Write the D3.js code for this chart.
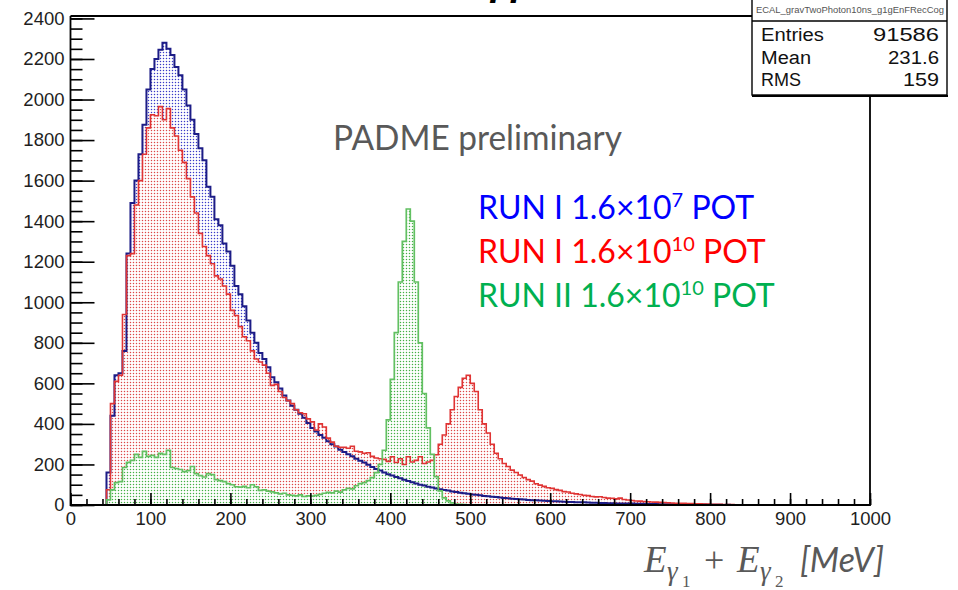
<!DOCTYPE html>
<html>
<head>
<meta charset="utf-8">
<script src="https://cdn.jsdelivr.net/npm/d3@7"></script>
<style>
  html, body { margin: 0; padding: 0; background: #fff; }
  svg { display: block; }
</style>
</head>
<body>
<svg id="chart" width="958" height="590"></svg>
<script>
// Two-photon energy sum, 5 MeV bins from 0 to 1000 MeV
const binWidth = 5;
const xTickLabels = [0, 100, 200, 300, 400, 500, 600, 700, 800, 900, 1000];
const yTickLabels = [0, 200, 400, 600, 800, 1000, 1200, 1400, 1600, 1800, 2000, 2200, 2400];

// RUN I, 1.6×10^7 POT
const run1Low = [
  0, 0, 0, 0, 0, 0, 0, 0, 0, 160,
  440, 640, 650, 760, 1240, 1490, 1600, 1730, 1875, 2050,
  2150, 2200, 2245, 2280, 2250, 2220, 2160, 2120, 2050, 1970,
  1900, 1830, 1760, 1700, 1570, 1520, 1410, 1380, 1290, 1250,
  1180, 1080, 1040, 980, 910, 850, 800, 750, 720, 680,
  630, 605, 575, 540, 515, 490, 470, 450, 430, 405,
  380, 362, 345, 332, 315, 300, 288, 272, 262, 250,
  240, 228, 218, 210, 198, 188, 178, 170, 160, 152,
  145, 138, 132, 124, 118, 112, 106, 100, 96, 90,
  86, 82, 78, 74, 71, 67, 64, 61, 58, 55,
  52, 50, 48, 45, 43, 41, 39, 37, 35, 33,
  31, 30, 28, 27, 25, 24, 23, 22, 21, 20,
  19, 18, 17, 16, 15, 15, 14, 13, 13, 12,
  11, 11, 10, 10, 9, 9, 8, 8, 8, 7,
  7, 6, 6, 6, 5, 5, 5, 4, 4, 4,
  4, 3, 3, 3, 2, 2, 2, 2, 2, 1,
  1, 1, 1, 0, 1, 0, 0, 0, 0, 0,
  0, 0, 0, 0, 0, 0, 0, 0, 0, 0,
  0, 0, 0, 0, 0, 0, 0, 0, 0, 0,
  0, 0, 0, 0, 0, 0, 0, 0, 0, 0
];

// RUN I, 1.6×10^10 POT
const run1High = [
  0, 0, 0, 0, 0, 0, 0, 0, 0, 75,
  500, 610, 640, 940, 1230, 1240, 1480, 1600, 1730, 1860,
  1925, 1920, 1965, 1900, 1955, 1860, 1820, 1750, 1690, 1610,
  1520, 1440, 1340, 1275, 1230, 1190, 1130, 1115, 1080, 1040,
  960, 935, 880, 830, 810, 760, 720, 705, 690, 650,
  590, 595, 560, 530, 515, 500, 470, 455, 450, 425,
  410, 370, 400, 385, 330, 310, 290, 285, 285, 280,
  290, 265, 262, 255, 258, 240, 232, 228, 225, 215,
  238, 210, 228, 200, 238, 212, 220, 238, 205, 212,
  220, 248, 300, 345, 400, 470, 535, 580, 625, 640,
  600, 560, 470, 400, 355, 300, 255, 228, 205, 190,
  172, 160, 148, 136, 125, 118, 105, 98, 92, 85,
  82, 76, 72, 66, 64, 58, 55, 52, 48, 46,
  42, 40, 41, 37, 34, 33, 30, 34, 27, 25,
  22, 20, 19, 17, 16, 15, 14, 13, 12, 11,
  10, 9, 9, 8, 7, 7, 6, 6, 5, 5,
  4, 3, 3, 2, 2, 2, 1, 1, 1, 1,
  0, 0, 0, 0, 0, 0, 0, 0, 0, 0,
  0, 0, 0, 0, 0, 0, 0, 0, 0, 0,
  0, 0, 0, 0, 0, 0, 0, 0, 0, 0
];

// RUN II, 1.6×10^10 POT
const run2 = [
  0, 0, 0, 0, 0, 0, 0, 0, 0, 25,
  75, 110, 115, 185, 210, 220, 250, 235, 265, 240,
  245, 235, 255, 250, 270, 185, 180, 175, 165, 170,
  190, 155, 145, 138, 155, 150, 125, 120, 115, 105,
  100, 90, 88, 92, 85, 100, 90, 72, 75, 68,
  65, 60, 55, 58, 50, 48, 45, 50, 42, 45,
  44, 47, 52, 58, 62, 60, 68, 64, 75, 82,
  80, 95, 105, 110, 120, 135, 160, 200, 270, 420,
  620, 850, 1100, 1300, 1460, 1400, 1100, 800, 550, 380,
  250, 140, 70, 35, 20, 10, 5, 3, 2, 1,
  0, 0, 0, 0, 0, 0, 0, 0, 0, 0,
  0, 0, 0, 0, 0, 0, 0, 0, 0, 0,
  0, 0, 0, 0, 0, 0, 0, 0, 0, 0,
  0, 0, 0, 0, 0, 0, 0, 0, 0, 0,
  0, 0, 0, 0, 0, 0, 0, 0, 0, 0,
  0, 0, 0, 0, 0, 0, 0, 0, 0, 0,
  0, 0, 0, 0, 0, 0, 0, 0, 0, 0,
  0, 0, 0, 0, 0, 0, 0, 0, 0, 0,
  0, 0, 0, 0, 0, 0, 0, 0, 0, 0,
  0, 0, 0, 0, 0, 0, 0, 0, 0, 0
];

const histName = "ECAL_gravTwoPhoton10ns_g1gEnFRecCog";
const statsLabels = ["Entries", "Mean", "RMS"];
const statsValues = ["91586", "231.6", "159"];
const legendRuns = ["RUN I 1.6×10", "RUN I 1.6×10", "RUN II 1.6×10"];
const legendExponents = ["7", "10", "10"];

const svg = d3.select("#chart");

const frame = { left: 70.5, right: 870, top: 16, bottom: 505 };
const x = d3.scaleLinear().domain([0, 1000]).range([frame.left, frame.right]);
const y = d3.scaleLinear().domain([0, 2412]).range([frame.bottom, frame.top]);

// dotted fill patterns, one per series
const defs = svg.append("defs");
const series = [
  { id: "blue",  values: run1Low,  dot: "#3a3ac8", line: "#1c1c86", width: 2.0 },
  { id: "red",   values: run1High, dot: "#dc4848", line: "#e03434", width: 1.6 },
  { id: "green", values: run2,     dot: "#44b044", line: "#62c062", width: 1.7 }
];
series.forEach(s => {
  const p = defs.append("pattern")
    .attr("id", "dots-" + s.id)
    .attr("patternUnits", "userSpaceOnUse")
    .attr("width", 3).attr("height", 3);
  p.append("rect").attr("width", 3).attr("height", 3).attr("fill", "#fff");
  p.append("circle").attr("cx", 1.5).attr("cy", 1.5).attr("r", 0.72).attr("fill", s.dot);
});

const toPoints = vals => vals.map((v, i) => [i * binWidth, v])
  .concat([[vals.length * binWidth, 0]]);

const area = d3.area().curve(d3.curveStepAfter)
  .x(d => x(d[0])).y0(y(0)).y1(d => y(d[1]));
const line = d3.line().curve(d3.curveStepAfter)
  .x(d => x(d[0])).y(d => y(d[1]));

const plot = svg.append("g");
series.forEach(s => {
  plot.append("path").datum(toPoints(s.values))
    .attr("d", area).attr("fill", `url(#dots-${s.id})`);
});
series.forEach(s => {
  plot.append("path").datum(toPoints(s.values))
    .attr("d", line).attr("fill", "none")
    .attr("stroke", s.line).attr("stroke-width", s.width)
    .attr("stroke-linejoin", "miter");
});

// axes with inward ticks
const tickFont = "'Liberation Sans', Arial, sans-serif";
const yMinor = d3.range(0, 2401, 50);
const xMinor = d3.range(0, 1001, 20);

const yAxisMinor = svg.append("g").attr("transform", `translate(${frame.left},0)`)
  .call(d3.axisLeft(y).tickValues(yMinor).tickSize(-12).tickFormat(""));
const yAxis = svg.append("g").attr("transform", `translate(${frame.left},0)`)
  .call(d3.axisLeft(y).tickValues(yTickLabels).tickSize(-24).tickPadding(6).tickFormat(d3.format("d")));
const xAxisMinor = svg.append("g").attr("transform", `translate(0,${frame.bottom})`)
  .call(d3.axisBottom(x).tickValues(xMinor).tickSize(-6).tickFormat(""));
const xAxis = svg.append("g").attr("transform", `translate(0,${frame.bottom})`)
  .call(d3.axisBottom(x).tickValues(xTickLabels).tickSize(-12).tickPadding(7).tickFormat(d3.format("d")));

[yAxisMinor, yAxis, xAxisMinor, xAxis].forEach(g => {
  g.select(".domain").remove();
  g.selectAll(".tick line").attr("stroke", "#000").attr("stroke-width", 1.6);
  g.selectAll("text").attr("font-family", tickFont).attr("font-size", 18.5).attr("fill", "#1e1e1e");
});

// frame
svg.append("path")
  .attr("d", `M${frame.left},${frame.top}V${frame.bottom}H${frame.right}V${frame.top}H${frame.left}`)
  .attr("fill", "none").attr("stroke", "#000").attr("stroke-width", 1.8);

// title running off the top edge
svg.append("text").attr("x", 484).attr("y", -3)
  .attr("font-family", "'DejaVu Sans', sans-serif").attr("font-weight", "bold")
  .attr("font-style", "italic").attr("font-size", 30).attr("fill", "#000")
  .text("γγ");

// statistics box
const stats = svg.append("g");
stats.append("rect").attr("x", 752).attr("y", -2).attr("width", 195).attr("height", 97)
  .attr("fill", "#fff").attr("stroke", "#000").attr("stroke-width", 1.4);
stats.append("line").attr("x1", 752).attr("x2", 947).attr("y1", 21).attr("y2", 21)
  .attr("stroke", "#000").attr("stroke-width", 1.4);
stats.append("line").attr("x1", 752).attr("x2", 948).attr("y1", 96).attr("y2", 96)
  .attr("stroke", "#000").attr("stroke-width", 2.2);
stats.append("text").attr("x", 756).attr("y", 13)
  .attr("font-family", tickFont).attr("font-size", 9).attr("fill", "#555")
  .attr("textLength", 188).attr("lengthAdjust", "spacingAndGlyphs")
  .text(histName);
const statWidths = [63, 50, 40];
const valWidths = [66, 51, 36];
statsLabels.forEach((lab, i) => {
  const by = 41 + i * 22.5;
  stats.append("text").attr("x", 761).attr("y", by)
    .attr("font-family", tickFont).attr("font-size", 18).attr("fill", "#111")
    .attr("textLength", statWidths[i]).attr("lengthAdjust", "spacingAndGlyphs")
    .text(lab);
  stats.append("text").attr("x", 939 - valWidths[i]).attr("y", by)
    .attr("font-family", tickFont).attr("font-size", 18).attr("fill", "#111")
    .attr("textLength", valWidths[i]).attr("lengthAdjust", "spacingAndGlyphs")
    .text(statsValues[i]);
});

// annotations
const slideFont = "Lato, 'Open Sans', sans-serif";
svg.append("text").attr("x", 333).attr("y", 150)
  .attr("font-family", slideFont).attr("font-size", 34).attr("fill", "#595959")
  .attr("textLength", 289).attr("lengthAdjust", "spacingAndGlyphs")
  .text("PADME preliminary");

const legendColors = ["#0000ff", "#ff0000", "#00b050"];
legendRuns.forEach((txt, i) => {
  const t = svg.append("text").attr("x", 478).attr("y", 219 + i * 44)
    .attr("font-family", slideFont).attr("font-size", 32).attr("fill", legendColors[i]);
  t.append("tspan").text(txt);
  t.append("tspan").attr("font-size", 20).attr("dy", -12).text(legendExponents[i]);
  t.append("tspan").attr("dy", 12).text(" POT");
});

// x-axis title
const serif = "'Liberation Serif', 'DejaVu Serif', serif";
const xt = svg.append("g").attr("fill", "#595959");
const piece = (px, py, size, txt, italic, fam) => xt.append("text")
  .attr("x", px).attr("y", py).attr("font-size", size)
  .attr("font-family", fam || serif).attr("font-style", italic ? "italic" : "normal").text(txt);
piece(644, 572, 37, "E", true);
piece(667, 580, 27, "γ", true);
piece(682, 587, 17, "1", false);
piece(704, 572, 36, "+", false);
piece(737, 572, 37, "E", true);
piece(760, 580, 27, "γ", true);
piece(775, 587, 17, "2", false);
piece(800, 572, 34, "[MeV]", true, slideFont);
</script>
</body>
</html>
